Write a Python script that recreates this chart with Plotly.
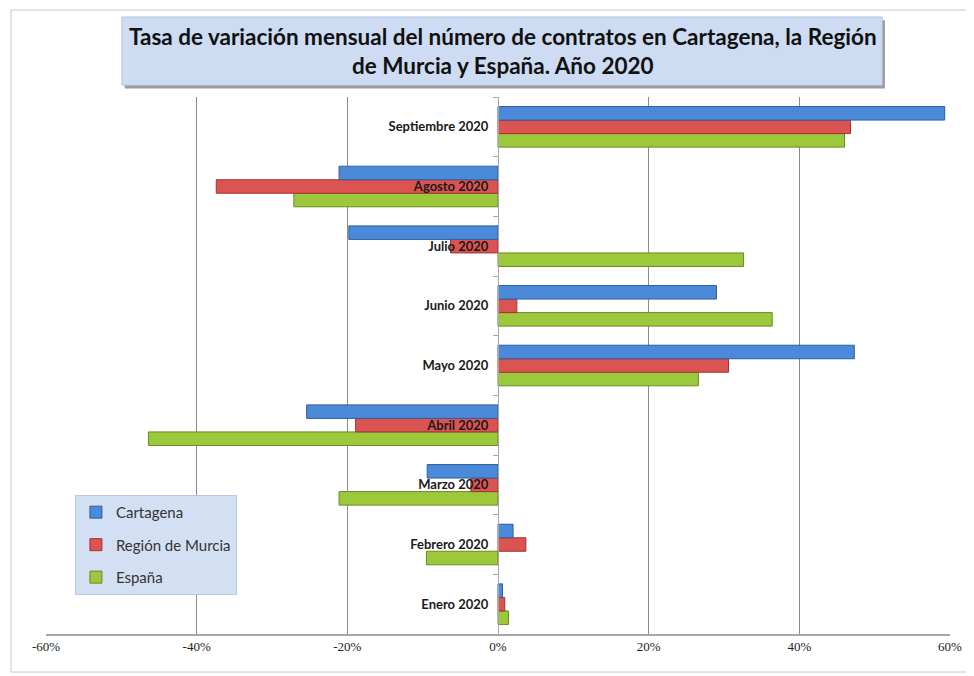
import plotly.graph_objects as go

# categories bottom -> top
meses = ["Enero 2020", "Febrero 2020", "Marzo 2020", "Abril 2020", "Mayo 2020",
         "Junio 2020", "Julio 2020", "Agosto 2020", "Septiembre 2020"]

cartagena = [0.6, 2.0, -9.4, -25.4, 47.3, 29.0, -19.8, -21.1, 59.3]
murcia = [0.9, 3.7, -3.6, -18.9, 30.6, 2.5, -6.3, -37.4, 46.8]
espana = [1.4, -9.5, -21.1, -46.4, 26.6, 36.4, 32.6, -27.1, 46.0]

tick_vals = [-60, -40, -20, 0, 20, 40, 60]
tick_text = ["-60%", "-40%", "-20%", "0%", "20%", "40%", "60%"]

titulo = "Tasa de variación mensual del número de contratos en Cartagena, la Región<br>de Murcia y España. Año 2020"

fig = go.Figure()
# added bottom-up so Cartagena sits at the top of each group
fig.add_trace(go.Bar(y=meses, x=espana, name="España", orientation="h", legendgroup="c", legendrank=3,
                     marker=dict(color="#9cc83c", line=dict(color="#6b8a22", width=1))))
fig.add_trace(go.Bar(y=meses, x=murcia, name="Región de Murcia", orientation="h", legendgroup="b", legendrank=2,
                     marker=dict(color="#dc5452", line=dict(color="#9e3532", width=1))))
fig.add_trace(go.Bar(y=meses, x=cartagena, name="Cartagena", orientation="h", legendgroup="a", legendrank=1,
                     marker=dict(color="#4a8ad8", line=dict(color="#2e5f9e", width=1))))

# page body has an 8px margin, so the figure is a bit smaller than the window
fig.update_layout(
    width=966, height=668,
    margin=dict(l=38, r=24, t=89, b=42),
    paper_bgcolor="white", plot_bgcolor="white",
    barmode="group", bargap=0.32, bargroupgap=0,
    showlegend=True,
    legend=dict(x=0.032, y=0.259, xanchor="left", yanchor="top",
                traceorder="grouped", tracegroupgap=10,
                bgcolor="#d3e0f3", bordercolor="#b8c8e0", borderwidth=1,
                font=dict(family="Lato", size=15, color="#333333"),
                itemwidth=30),
    xaxis=dict(range=[-60, 60], tickvals=tick_vals, ticktext=tick_text, automargin=False,
               showgrid=True, gridcolor="#8c8c8c", gridwidth=1,
               zeroline=False, showline=True, linecolor="#a6a6a6", linewidth=1.5,
               ticks="", tickfont=dict(family="Liberation Serif", size=13, color="#222222")),
    yaxis=dict(anchor="free", position=0.5, automargin=False,
               showline=True, linecolor="#a6a6a6", linewidth=1,
               ticks="outside", tickson="boundaries", ticklen=5, tickcolor="#a6a6a6",
               ticklabelstandoff=7,
               showgrid=False, zeroline=False,
               tickfont=dict(family="Lato", size=13, color="#1a1a1a", weight="bold")),
)

# outer chart frame
fig.add_shape(type="rect", xref="paper", yref="paper", x0=-0.0387, x1=1.04, y0=-0.0708, y1=1.162,
              line=dict(color="#c8c8c8", width=1), fillcolor="rgba(0,0,0,0)", layer="below")

# title box with shadow
fig.add_shape(type="rect", xref="paper", yref="paper", x0=0.087, x1=0.928, y0=1.016, y1=1.143,
              line=dict(width=0), fillcolor="#9a9a9a", layer="below")
fig.add_shape(type="rect", xref="paper", yref="paper", x0=0.084, x1=0.925, y0=1.022, y1=1.149,
              line=dict(color="#b0c4e4", width=1), fillcolor="#cddcf2", layer="below")
fig.add_annotation(text=titulo, xref="paper", yref="paper", x=0.505, y=1.086,
                   xanchor="center", yanchor="middle", showarrow=False,
                   font=dict(family="Lato", size=22.5, color="#111111", weight="bold"))

fig.write_html("out.html")
